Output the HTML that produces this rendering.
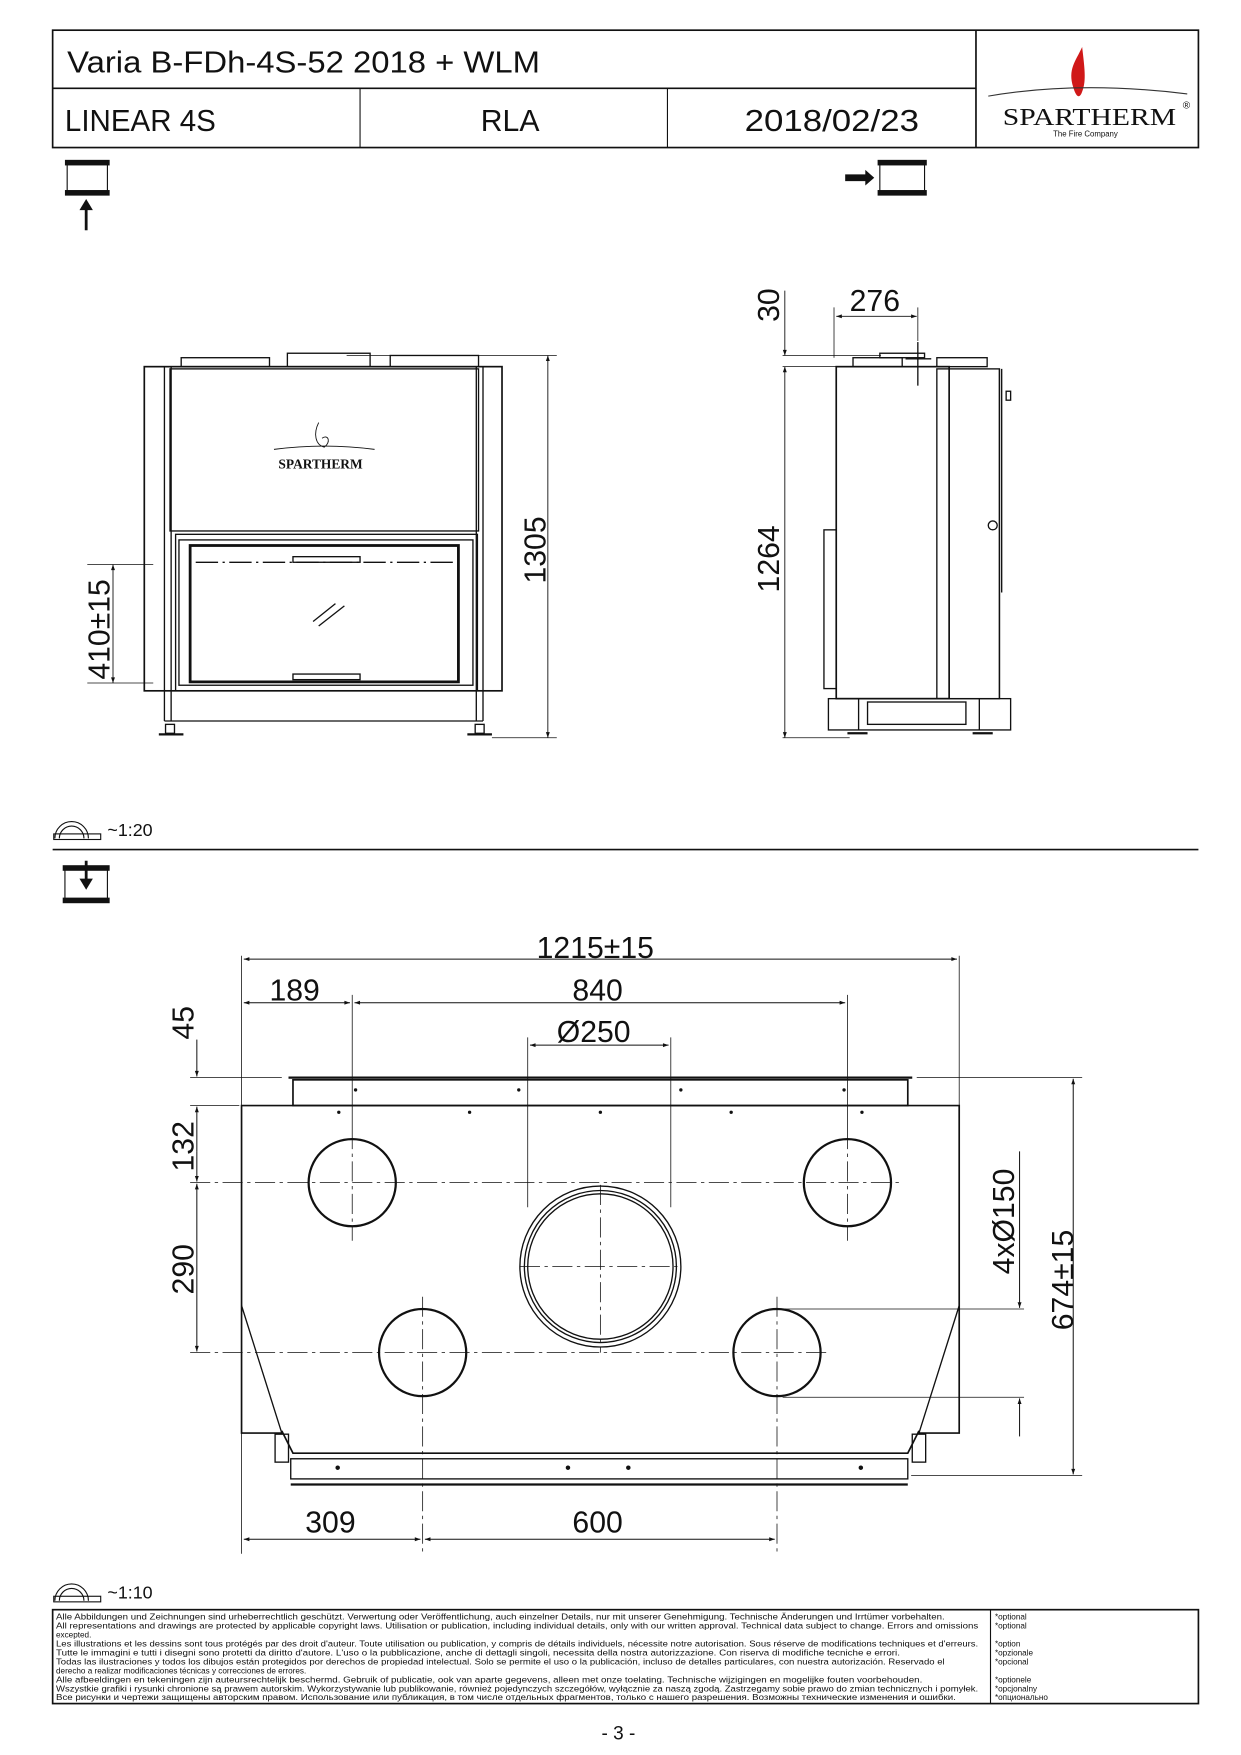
<!DOCTYPE html>
<html><head><meta charset="utf-8"><style>
html,body{margin:0;padding:0;background:#fff}
svg{display:block}
text{font-family:"Liberation Sans","DejaVu Sans",sans-serif;fill:#111}
</style></head><body>
<svg width="1241" height="1755" viewBox="0 0 1110 1570" xmlns="http://www.w3.org/2000/svg">
<defs>
<marker id="a" viewBox="0 0 10 10" refX="10" refY="5" markerWidth="9" markerHeight="5" orient="auto-start-reverse" markerUnits="userSpaceOnUse"><path d="M0,1.5L10,5L0,8.5z" fill="#111"/></marker>
</defs>
<g stroke="#111" fill="none">
<rect x="47" y="27" width="1025" height="105" stroke-width="1.5"/>
<line x1="873" y1="27" x2="873" y2="132" stroke-width="1.5"/>
<line x1="47" y1="79" x2="873" y2="79" stroke-width="1.5"/>
<line x1="322" y1="79" x2="322" y2="132"/>
<line x1="597" y1="79" x2="597" y2="132"/>
</g>
<text x="60" y="65" font-size="27" textLength="423" lengthAdjust="spacingAndGlyphs">Varia B-FDh-4S-52 2018 + WLM</text>
<text x="58" y="117" font-size="27" textLength="135" lengthAdjust="spacingAndGlyphs">LINEAR 4S</text>
<text x="430" y="117" font-size="27">RLA</text>
<text x="666" y="117" font-size="27" textLength="156" lengthAdjust="spacingAndGlyphs">2018/02/23</text>
<path d="M968,42 C962,55 955,62 960,78 C963,88 966,88 968,82 C972,72 970,60 968,42z" fill="#d01818"/>
<path d="M884,86 Q965,72 1062,84" stroke="#333" fill="none"/>
<text x="897" y="112" font-size="22" style="font-family:'Liberation Serif',serif" textLength="155" lengthAdjust="spacingAndGlyphs">SPARTHERM</text>
<text x="1058" y="97" font-size="9">®</text>
<text x="942" y="122" font-size="7">The Fire Company</text>

<g stroke="#111" fill="none">
<rect x="60" y="145" width="36" height="28"/>
<rect x="787" y="145" width="40" height="28"/>
</g>
<rect x="58" y="143" width="40" height="5" fill="#111"/><rect x="58" y="170" width="40" height="5" fill="#111"/>
<rect x="785" y="143" width="44" height="5" fill="#111"/><rect x="785" y="170" width="44" height="5" fill="#111"/>
<line x1="77" y1="185" x2="77" y2="206" stroke="#111" stroke-width="2.5"/><path d="M71,188 L77,178 L83,188z" fill="#111"/>
<path d="M756,156 L774,156 L774,152 L782,159 L774,166 L774,162 L756,162z" fill="#111"/>

<!-- FRONT VIEW -->
<g stroke="#111" fill="none" stroke-width="1.2">
<rect x="129" y="328" width="320" height="290" stroke-width="1.5"/>
<line x1="147" y1="328" x2="147" y2="645"/><line x1="432" y1="328" x2="432" y2="645"/>
<line x1="153" y1="328" x2="153" y2="645"/><line x1="426" y1="328" x2="426" y2="645"/>
<rect x="152" y="330" width="276" height="145"/>
<rect x="157" y="478" width="270" height="140"/>
<rect x="170" y="488" width="240" height="122" stroke-width="2.5"/>
<rect x="160" y="483" width="263" height="130"/>
<line x1="147" y1="645" x2="432" y2="645"/>
<rect x="162" y="320" width="79" height="8"/><rect x="257" y="316" width="74" height="12"/><rect x="349" y="318" width="79" height="10"/>
<rect x="148" y="648" width="8" height="8"/><rect x="425" y="648" width="8" height="8"/>
<line x1="142" y1="657" x2="164" y2="657" stroke-width="2"/><line x1="418" y1="657" x2="440" y2="657" stroke-width="2"/>
<line x1="175" y1="503" x2="405" y2="503" stroke-dasharray="20,4,2,4"/>
<rect x="262" y="498" width="60" height="5"/><rect x="262" y="603" width="60" height="5"/>
<line x1="280" y1="556" x2="300" y2="540"/><line x1="285" y1="560" x2="308" y2="542"/>
<line x1="78" y1="505" x2="137" y2="505" stroke-width="0.7"/><line x1="78" y1="611" x2="137" y2="611" stroke-width="0.7"/>
<line x1="101" y1="505" x2="101" y2="611" stroke-width="0.8" marker-start="url(#a)" marker-end="url(#a)"/>
<line x1="310" y1="318" x2="498" y2="318" stroke-width="0.7"/><line x1="440" y1="660" x2="498" y2="660" stroke-width="0.7"/>
<line x1="490" y1="318" x2="490" y2="660" stroke-width="0.8" marker-start="url(#a)" marker-end="url(#a)"/>
<path d="M285,378 C280,388 282,398 290,400 C296,396 294,388 288,392" stroke-width="0.8"/>
<path d="M245,402 Q290,396 335,402" stroke-width="0.8"/>
</g>
<text x="249" y="419" font-size="12" font-weight="bold" style="font-family:'Liberation Serif',serif">SPARTHERM</text>
<text transform="translate(98,608) rotate(-90)" font-size="27">410±15</text>
<text transform="translate(488,522) rotate(-90)" font-size="27">1305</text>

<!-- SIDE VIEW -->
<g stroke="#111" fill="none" stroke-width="1.2">
<rect x="748" y="328" width="101" height="297" stroke-width="1.5"/>
<rect x="838" y="330" width="56" height="295"/>
<line x1="894" y1="330" x2="894" y2="625"/><line x1="896" y1="330" x2="896" y2="530"/>
<rect x="737" y="474" width="11" height="142"/>
<rect x="763" y="320" width="44" height="8"/><rect x="787" y="316" width="40" height="4"/><rect x="838" y="320" width="45" height="8"/>
<line x1="821" y1="306" x2="821" y2="345"/><line x1="810" y1="321" x2="833" y2="321"/>
<rect x="741" y="625" width="163" height="28"/>
<line x1="768" y1="625" x2="768" y2="653"/><line x1="876" y1="625" x2="876" y2="653"/>
<rect x="776" y="628" width="88" height="20"/>
<line x1="758" y1="656" x2="776" y2="656" stroke-width="2"/><line x1="870" y1="656" x2="888" y2="656" stroke-width="2"/>
<line x1="700" y1="318" x2="788" y2="318" stroke-width="0.7"/><line x1="700" y1="328" x2="770" y2="328" stroke-width="0.7"/>
<line x1="702" y1="260" x2="702" y2="318" stroke-width="0.8" marker-end="url(#a)"/>
<line x1="702" y1="328" x2="702" y2="660" stroke-width="0.8" marker-start="url(#a)" marker-end="url(#a)"/>
<line x1="700" y1="660" x2="760" y2="660" stroke-width="0.7"/>
<line x1="746" y1="275" x2="746" y2="320" stroke-width="0.7"/><line x1="821" y1="275" x2="821" y2="305" stroke-width="0.7"/>
<line x1="748" y1="283" x2="820" y2="283" stroke-width="0.8" marker-start="url(#a)" marker-end="url(#a)"/>
<circle cx="888" cy="470" r="4"/><rect x="900" y="350" width="4" height="8"/>
</g>
<text transform="translate(697,288) rotate(-90)" font-size="27">30</text>
<text x="760" y="278" font-size="27">276</text>
<text transform="translate(697,530) rotate(-90)" font-size="27">1264</text>

<g stroke="#111" fill="none" stroke-width="1">
<path d="M49,750 A14,14 0 0 1 79,750"/><path d="M53,750 A10,10 0 0 1 75,750"/>
<rect x="48" y="746" width="42" height="5"/>
</g>
<text x="96" y="748" font-size="16">~1:20</text>
<line x1="47" y1="760" x2="1072" y2="760" stroke="#111" stroke-width="1.5"/>

<rect x="58" y="776" width="38" height="30" fill="none" stroke="#111"/>
<rect x="56" y="774" width="42" height="5" fill="#111"/><rect x="56" y="803" width="42" height="5" fill="#111"/>
<line x1="77" y1="770" x2="77" y2="790" stroke="#111" stroke-width="2.5"/><path d="M71,786 L77,796 L83,786z" fill="#111"/>

<!-- TOP VIEW -->
<g stroke="#111" fill="none" stroke-width="1.2">
<path d="M216,989 L858,989 L858,1282 L822,1282 L822,1280 L812,1300 L262,1300 L252,1280 L252,1282 L216,1282z" stroke-width="1.5"/>
<path d="M216,1168 L252,1282 M858,1168 L822,1282" />
<rect x="262" y="966" width="550" height="23" stroke-width="1.5"/>
<line x1="258" y1="964" x2="816" y2="964" stroke-width="2"/>
<rect x="260" y="1305" width="552" height="18"/>
<line x1="260" y1="1328" x2="812" y2="1328" stroke-width="2"/>
<rect x="246" y="1283" width="12" height="25"/><rect x="816" y="1283" width="12" height="25"/>
<circle cx="315" cy="1058" r="39" stroke-width="2"/>
<circle cx="758" cy="1058" r="39" stroke-width="2"/>
<circle cx="378" cy="1210" r="39" stroke-width="2"/>
<circle cx="695" cy="1210" r="39" stroke-width="2"/>
<circle cx="537" cy="1133" r="72"/><circle cx="537" cy="1133" r="68"/><circle cx="537" cy="1133" r="65"/>
<g stroke-width="0.7" stroke-dasharray="18,4,3,4">
<line x1="170" y1="1058" x2="805" y2="1058"/><line x1="170" y1="1210" x2="740" y2="1210"/>
<line x1="465" y1="1133" x2="610" y2="1133"/>
<line x1="315" y1="1010" x2="315" y2="1110"/><line x1="758" y1="1010" x2="758" y2="1110"/>
<line x1="378" y1="1160" x2="378" y2="1390"/><line x1="695" y1="1160" x2="695" y2="1390"/>
<line x1="537" y1="1060" x2="537" y2="1210"/>
</g>
<g stroke-width="0.7">
<line x1="216" y1="855" x2="216" y2="1390"/><line x1="858" y1="855" x2="858" y2="1000"/>
<line x1="315" y1="890" x2="315" y2="1010"/><line x1="758" y1="890" x2="758" y2="1010"/>
<line x1="472" y1="928" x2="472" y2="1080"/><line x1="600" y1="928" x2="600" y2="1080"/>
<line x1="170" y1="964" x2="252" y2="964"/><line x1="170" y1="989" x2="214" y2="989"/>
<line x1="700" y1="1171" x2="916" y2="1171"/><line x1="700" y1="1250" x2="916" y2="1250"/>
<line x1="820" y1="964" x2="968" y2="964"/><line x1="815" y1="1320" x2="968" y2="1320"/>
</g>
<g stroke-width="0.9">
<line x1="218" y1="858" x2="856" y2="858" marker-start="url(#a)" marker-end="url(#a)"/>
<line x1="218" y1="897" x2="313" y2="897" marker-start="url(#a)" marker-end="url(#a)"/>
<line x1="317" y1="897" x2="756" y2="897" marker-start="url(#a)" marker-end="url(#a)"/>
<line x1="474" y1="935" x2="598" y2="935" marker-start="url(#a)" marker-end="url(#a)"/>
<line x1="176" y1="930" x2="176" y2="963" marker-end="url(#a)"/>
<line x1="176" y1="1030" x2="176" y2="990" marker-end="url(#a)"/>
<line x1="176" y1="1030" x2="176" y2="1057" marker-end="url(#a)"/>
<line x1="176" y1="1059" x2="176" y2="1209" marker-start="url(#a)" marker-end="url(#a)"/>
<line x1="912" y1="1030" x2="912" y2="1170" marker-end="url(#a)"/>
<line x1="912" y1="1251" x2="912" y2="1285" marker-start="url(#a)"/>
<line x1="960" y1="965" x2="960" y2="1319" marker-start="url(#a)" marker-end="url(#a)"/>
<line x1="218" y1="1377" x2="376" y2="1377" marker-start="url(#a)" marker-end="url(#a)"/>
<line x1="380" y1="1377" x2="693" y2="1377" marker-start="url(#a)" marker-end="url(#a)"/>
</g>
</g>
<g fill="#111">
<circle cx="318" cy="975" r="1.5"/><circle cx="464" cy="975" r="1.5"/><circle cx="609" cy="975" r="1.5"/><circle cx="755" cy="975" r="1.5"/>
<circle cx="303" cy="995" r="1.5"/><circle cx="420" cy="995" r="1.5"/><circle cx="537" cy="995" r="1.5"/><circle cx="654" cy="995" r="1.5"/><circle cx="771" cy="995" r="1.5"/>
<circle cx="302" cy="1313" r="2"/><circle cx="508" cy="1313" r="2"/><circle cx="562" cy="1313" r="2"/><circle cx="770" cy="1313" r="2"/>
</g>
<text x="480" y="857" font-size="27">1215±15</text>
<text x="241" y="895" font-size="27">189</text>
<text x="512" y="895" font-size="27">840</text>
<text x="498" y="932" font-size="27">Ø250</text>
<text transform="translate(173,930) rotate(-90)" font-size="27">45</text>
<text transform="translate(173,1048) rotate(-90)" font-size="27">132</text>
<text transform="translate(173,1158) rotate(-90)" font-size="27">290</text>
<text transform="translate(907,1140) rotate(-90)" font-size="27">4xØ150</text>
<text transform="translate(960,1190) rotate(-90)" font-size="27">674±15</text>
<text x="273" y="1371" font-size="27">309</text>
<text x="512" y="1371" font-size="27">600</text>

<g stroke="#111" fill="none" stroke-width="1">
<path d="M49,1432 A14,14 0 0 1 79,1432"/><path d="M53,1432 A10,10 0 0 1 75,1432"/>
<rect x="48" y="1428" width="42" height="5"/>
</g>
<text x="96" y="1430" font-size="16">~1:10</text>

<rect x="47" y="1440" width="1025" height="84" fill="none" stroke="#111" stroke-width="1.5"/>
<line x1="886" y1="1440" x2="886" y2="1524" stroke="#111"/>
<g font-size="7.3">
<text x="50" y="1449" textLength="795" lengthAdjust="spacingAndGlyphs">Alle Abbildungen und Zeichnungen sind urheberrechtlich geschützt. Verwertung oder Veröffentlichung, auch einzelner Details, nur mit unserer Genehmigung. Technische Änderungen und Irrtümer vorbehalten.</text>
<text x="50" y="1457" textLength="825" lengthAdjust="spacingAndGlyphs">All representations and drawings are protected by applicable copyright laws. Utilisation or publication, including individual details, only with our written approval. Technical data subject to change. Errors and omissions</text>
<text x="50" y="1465">excepted.</text>
<text x="50" y="1473" textLength="825" lengthAdjust="spacingAndGlyphs">Les illustrations et les dessins sont tous protégés par des droit d'auteur. Toute utilisation ou publication, y compris de détails individuels, nécessite notre autorisation. Sous réserve de modifications techniques et d'erreurs.</text>
<text x="50" y="1481" textLength="755" lengthAdjust="spacingAndGlyphs">Tutte le immagini e tutti i disegni sono protetti da diritto d'autore. L'uso o la pubblicazione, anche di dettagli singoli, necessita della nostra autorizzazione. Con riserva di modifiche tecniche e errori.</text>
<text x="50" y="1489" textLength="795" lengthAdjust="spacingAndGlyphs">Todas las ilustraciones y todos los dibujos están protegidos por derechos de propiedad intelectual. Solo se permite el uso o la publicación, incluso de detalles particulares, con nuestra autorización. Reservado el</text>
<text x="50" y="1497">derecho a realizar modificaciones técnicas y correcciones de errores.</text>
<text x="50" y="1505" textLength="775" lengthAdjust="spacingAndGlyphs">Alle afbeeldingen en tekeningen zijn auteursrechtelijk beschermd. Gebruik of publicatie, ook van aparte gegevens, alleen met onze toelating. Technische wijzigingen en mogelijke fouten voorbehouden.</text>
<text x="50" y="1513" textLength="825" lengthAdjust="spacingAndGlyphs">Wszystkie grafiki i rysunki chronione są prawem autorskim. Wykorzystywanie lub publikowanie, również pojedynczych szczegółów, wyłącznie za naszą zgodą. Zastrzegamy sobie prawo do zmian technicznych i pomyłek.</text>
<text x="50" y="1521" textLength="805" lengthAdjust="spacingAndGlyphs">Все рисунки и чертежи защищены авторским правом. Использование или публикация, в том числе отдельных фрагментов, только с нашего разрешения. Возможны технические изменения и ошибки.</text>
<text x="890" y="1449">*optional</text><text x="890" y="1457">*optional</text>
<text x="890" y="1473">*option</text><text x="890" y="1481">*opzionale</text><text x="890" y="1489">*opcional</text>
<text x="890" y="1505">*optionele</text><text x="890" y="1513">*opcjonalny</text><text x="890" y="1521">*опционально</text>
</g>
<text x="538" y="1556" font-size="17">- 3 -</text>
</svg>
</body></html>
